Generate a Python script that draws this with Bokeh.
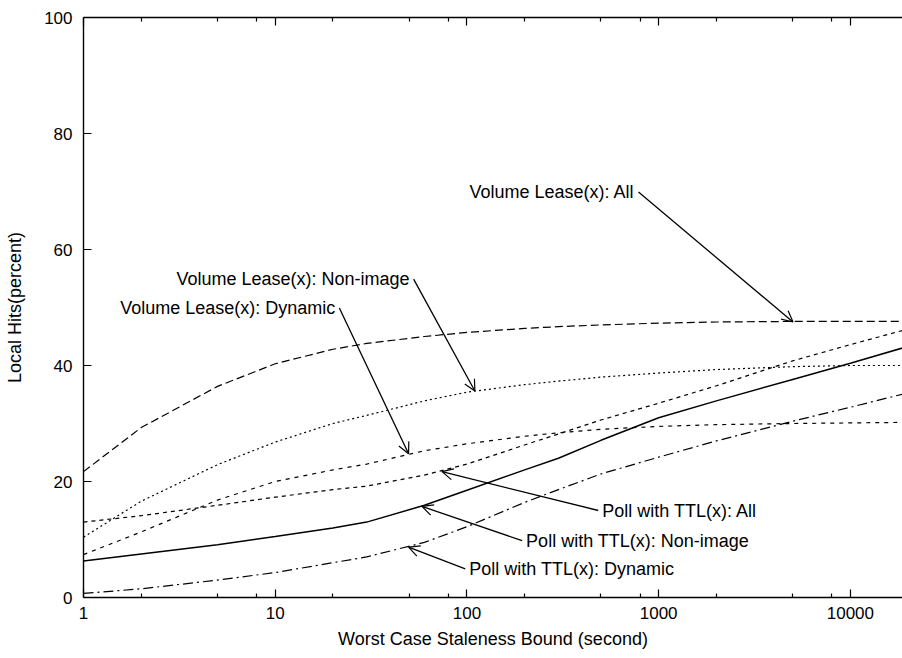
from bokeh.plotting import figure
from bokeh.models import Range1d, LogAxis, FixedTicker, Arrow, OpenHead, Label
from bokeh.embed import file_html
from bokeh.resources import INLINE

# Worst-case staleness bound (seconds)
staleness = [1, 2, 5, 10, 20, 30, 60, 100, 200, 300, 500, 1000, 2000, 5000, 10000, 20000]

# Local hits (percent) per policy / workload
vl_all       = [21.7, 29.3, 36.4, 40.3, 42.8, 43.8, 45.0, 45.7, 46.4, 46.7, 47.0, 47.3, 47.5, 47.6, 47.6, 47.6]
vl_nonimage  = [10.4, 16.6, 22.9, 26.8, 30.0, 31.4, 33.9, 35.4, 36.7, 37.3, 38.0, 38.7, 39.3, 39.8, 40.0, 40.0]
vl_dynamic   = [7.4, 11.3, 16.8, 20.0, 22.0, 23.0, 25.3, 26.5, 27.8, 28.4, 29.0, 29.5, 29.8, 30.0, 30.1, 30.2]
poll_all     = [13.0, 14.1, 15.9, 17.3, 18.6, 19.2, 21.1, 23.0, 26.3, 28.2, 30.6, 33.5, 36.5, 40.8, 43.6, 46.3]
poll_nonimg  = [6.3, 7.5, 9.1, 10.5, 12.0, 13.0, 15.9, 18.5, 22.0, 24.0, 27.1, 31.0, 33.9, 37.6, 40.4, 43.3]
poll_dynamic = [0.7, 1.5, 3.0, 4.3, 6.0, 7.0, 9.5, 12.2, 16.4, 18.6, 21.3, 24.2, 27.0, 30.4, 32.8, 35.3]

x_major = [1, 10, 100, 1000, 10000]
x_major_labels = ["1", "10", "100", "1000", "10000"]
x_minor = [2, 5, 8, 20, 50, 80, 200, 500, 800, 2000, 5000, 8000]
y_major = [0, 20, 40, 60, 80, 100]

# annotation text, arrow tail (x, y) and arrow tip (x, y)
notes = [
    ("Volume Lease(x): All",        785, 69.9, 5020, 47.5, "right"),
    ("Volume Lease(x): Non-image",  52.7, 54.9, 110, 35.6, "right"),
    ("Volume Lease(x): Dynamic",    21.6, 49.9, 49.6, 24.8, "right"),
    ("Poll with TTL(x): All",       484, 15.0, 74.1, 21.7, "left"),
    ("Poll with TTL(x): Non-image", 194, 9.8, 58.3, 15.7, "left"),
    ("Poll with TTL(x): Dynamic",   98, 4.95, 49.6, 8.7, "left"),
]

FONT = "Liberation Sans"

p = figure(width=902, height=658, x_axis_type="log",
           x_range=Range1d(1, 18700), y_range=Range1d(0, 100),
           output_backend="svg", toolbar_location=None,
           min_border_left=83, min_border_right=0, min_border_top=17, min_border_bottom=61)
p.outline_line_color = None
p.xgrid.visible = False
p.ygrid.visible = False
p.background_fill_color = "white"
p.border_fill_color = "white"

def style_axis(ax):
    ax.axis_line_color = "black"
    ax.axis_line_width = 1.4
    ax.major_tick_in = 8
    ax.major_tick_out = 0
    ax.minor_tick_in = 4
    ax.minor_tick_out = 0
    ax.major_tick_line_color = "black"
    ax.minor_tick_line_color = "black"
    ax.major_tick_line_width = 1.2
    ax.minor_tick_line_width = 1.2
    ax.major_label_text_font = FONT
    ax.major_label_text_font_size = "17px"
    ax.major_label_text_color = "black"
    ax.axis_label_text_font = FONT
    ax.axis_label_text_font_size = "18px"
    ax.axis_label_text_font_style = "normal"
    ax.axis_label_text_color = "black"

xa = p.xaxis[0]
style_axis(xa)
xa.ticker = FixedTicker(ticks=x_major, minor_ticks=x_minor)
xa.major_label_overrides = {float(v): s for v, s in zip(x_major, x_major_labels)}
xa.axis_label = "Worst Case Staleness Bound (second)"
xa.major_label_standoff = 9
xa.axis_label_standoff = 7

ya = p.yaxis[0]
style_axis(ya)
ya.ticker = FixedTicker(ticks=y_major, minor_ticks=[])
ya.axis_label = "Local Hits(percent)"
ya.major_label_standoff = 11
ya.axis_label_standoff = 16

# mirrored ticks along the top edge, no labels
top = LogAxis(ticker=FixedTicker(ticks=x_major, minor_ticks=x_minor))
style_axis(top)
top.major_label_text_font_size = "1px"
top.major_label_text_alpha = 0
top.major_label_standoff = 0
p.add_layout(top, "above")

lw = 1.2
p.line(staleness, vl_all, line_color="black", line_width=lw, line_dash="8 4")
p.line(staleness, vl_nonimage, line_color="black", line_width=lw, line_dash="2 3")
p.line(staleness, vl_dynamic, line_color="black", line_width=lw, line_dash="4 5")
p.line(staleness, poll_all, line_color="black", line_width=lw, line_dash="4 4")
p.line(staleness, poll_nonimg, line_color="black", line_width=1.5)
p.line(staleness, poll_dynamic, line_color="black", line_width=lw, line_dash="10 4 2 4")

for text, x0, y0, x1, y1, align in notes:
    p.add_layout(Arrow(end=OpenHead(size=11, line_width=1.2, line_color="black"),
                       x_start=x0, y_start=y0, x_end=x1, y_end=y1,
                       line_width=1.3, line_color="black"))
    p.add_layout(Label(x=x0, y=y0, text=text, text_align=align, text_baseline="middle",
                       x_offset=(-4 if align == "right" else 4),
                       text_font=FONT, text_font_size="18px", text_color="black"))

open("out.html", "w").write(file_html(p, INLINE))
